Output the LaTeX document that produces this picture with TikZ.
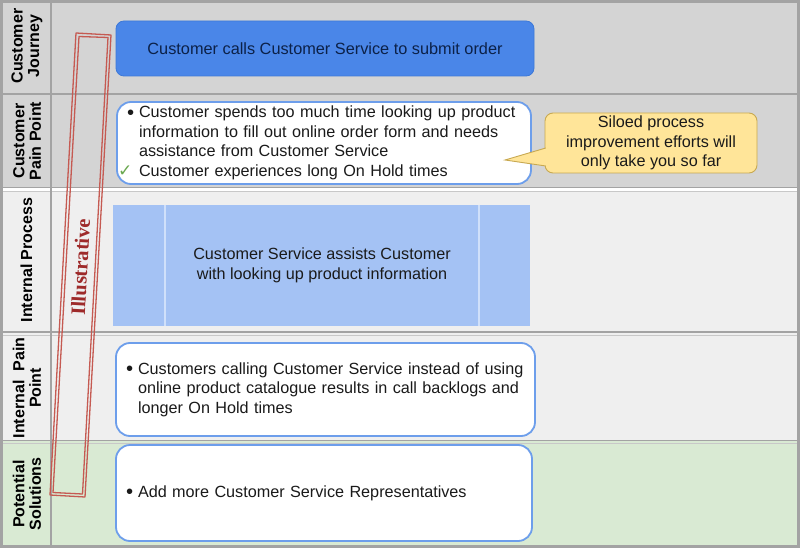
\documentclass[tikz,border=0pt]{standalone}
\usepackage{fontspec}
\setmainfont{Liberation Sans}
\newfontfamily\illfont{Liberation Serif}
\newfontfamily\symfont{DejaVu Sans}
\usetikzlibrary{calc}
\definecolor{rowgray}{HTML}{D4D4D4}
\definecolor{rowlight}{HTML}{EFEFEF}
\definecolor{rowgreen}{HTML}{D9EAD3}
\definecolor{sepgray}{HTML}{A3A3A3}
\definecolor{seplight}{HTML}{C8C8C8}
\definecolor{journeyblue}{HTML}{4A86E8}
\definecolor{journeyedge}{HTML}{3C78D8}
\definecolor{navytext}{HTML}{0C2148}
\definecolor{boxedge}{HTML}{6D9EEB}
\definecolor{procblue}{HTML}{A4C2F4}
\definecolor{procline}{HTML}{D0E0FA}
\definecolor{calloutfill}{HTML}{FFE599}
\definecolor{calloutedge}{HTML}{C8A951}
\definecolor{illred}{HTML}{C55A52}
\definecolor{illtext}{HTML}{9E2A2A}
\definecolor{checkgreen}{HTML}{6AA84F}
\definecolor{bodytext}{HTML}{1A1A1A}
\newcommand{\bul}{\makebox[12pt][l]{\raisebox{-1.6pt}{\scalebox{1.25}{\textbullet}}}}
\begin{document}
\begin{tikzpicture}[x=1pt,y=-1pt,
  sep/.style={draw=sepgray,line width=1.6pt},
  lanelabel/.style={rotate=90,align=center,font=\bfseries\fontsize{16}{16.5}\selectfont,text=black,inner sep=0pt},
  bodyfont/.style={font=\fontsize{16.2}{19.5}\selectfont,text=bodytext},
  journeybox/.style={draw=journeyedge,fill=journeyblue,rounded corners=8pt,line width=0.8pt,
    font=\fontsize{16.3}{19.5}\selectfont,text=navytext},
  whitebox/.style={draw=boxedge,fill=white,rounded corners=14pt,line width=1.8pt,
    bodyfont,align=left,inner xsep=10pt,inner ysep=0pt},
  procbox/.style={fill=procblue,inner sep=0pt},
  calloutbox/.style={draw=calloutedge,fill=calloutfill,rounded corners=8pt,line width=0.9pt,
    bodyfont,align=center,inner sep=0pt},
  illline/.style={draw=illred,line width=1.3pt,line join=round},
  illstyle/.style={font=\illfont\bfseries\fontsize{20.5}{20.5}\selectfont,text=illtext,inner sep=0pt}
]
\useasboundingbox (0,0) rectangle (800,548);
% lane backgrounds
\fill[rowgray] (2,2) rectangle (797,188);
\fill[white] (2,188) rectangle (797,191);
\fill[rowlight] (2,191) rectangle (797,441);
\fill[rowgreen] (2,441) rectangle (797,545);
% separators
\draw[sep] (2,94) -- (797,94);
\draw[sep] (2,187.5) -- (797,187.5);
\draw[draw=seplight,line width=1pt] (2,191.5) -- (797,191.5);
\draw[sep] (2,332) -- (797,332);
\draw[draw=seplight,line width=1pt] (2,335) -- (797,335);
\draw[sep] (2,440.5) -- (797,440.5);
\draw[draw=seplight,line width=1pt] (2,443.5) -- (797,443.5);
\draw[draw=sepgray,line width=1.4pt] (51,2) -- (51,545);
\draw[draw=sepgray,line width=3pt] (1.5,1.5) rectangle (798.5,546.5);
% lane labels
\node[lanelabel] (l1) at (27,46) {Customer\\Journey};
\node[lanelabel] (l2) at (27,141) {Customer\\Pain Point};
\node[lanelabel] (l3) at (26.5,260) {Internal Process};
\node[lanelabel] (l4) at (27,388) {Internal\ \ Pain\\Point};
\node[lanelabel] (l5) at (27,494) {Potential\\Solutions};
% customer journey
\node[journeybox,minimum width=418pt,minimum height=55pt] (journey) at (325,48.5)
  {Customer calls Customer Service to submit order};
% customer pain point
\node[whitebox,text width=394pt,minimum height=82pt] (pain) at (324,143)
  {\bul Customer spends too much time looking up product\\
   \hspace*{12pt}information to fill out online order form and needs\\
   \hspace*{12pt}assistance from Customer Service\\
   \makebox[12pt][l]{\hspace*{-9pt}{\symfont\color{checkgreen}\fontsize{17}{17}\selectfont ✓}}Customer experiences long On Hold times};
% callout
\node[calloutbox,minimum width=212pt,minimum height=60pt] (callout) at (651,143)
  {Siloed process\\improvement efforts will\\only take you so far};
\coordinate (tip) at (505,160);
\filldraw[fill=calloutfill,draw=calloutedge,line width=0.9pt,line join=miter]
  ($(callout.west)+(1.2,5)$) -- (tip) -- ($(callout.west)+(1.2,23)$);
% internal process
\node[procbox,minimum width=417pt,minimum height=121pt] (proc) at (321.5,265.5) {};
\draw[draw=procline,line width=1.5pt] ($(proc.north west)+(52,0)$) -- ($(proc.south west)+(52,0)$);
\draw[draw=procline,line width=1.5pt] ($(proc.north west)+(366,0)$) -- ($(proc.south west)+(366,0)$);
\node[bodyfont,align=center] (proctext) at (322,265.5)
  {Customer Service assists Customer\\with looking up product information};
% internal pain point
\node[whitebox,text width=399pt,minimum height=93pt] (ipain) at (325.5,389.5)
  {\bul Customers calling Customer Service instead of using\\
   \hspace*{12pt}online product catalogue results in call backlogs and\\
   \hspace*{12pt}longer On Hold times};
% potential solutions
\node[whitebox,text width=396pt,minimum height=96pt] (solutions) at (324,493)
  {\bul Add more Customer Service Representatives};
% illustrative stamp
\draw[illline] (76,33) -- (111,35) -- (85,497) -- (50,495) -- cycle;
\draw[illline] (79,36.5) -- (108,37.5) -- (82.5,494) -- (53,492.5) -- cycle;
\node[illstyle,rotate=86.8] (illus) at (80.5,267) {Illustrative};
\end{tikzpicture}
\end{document}
